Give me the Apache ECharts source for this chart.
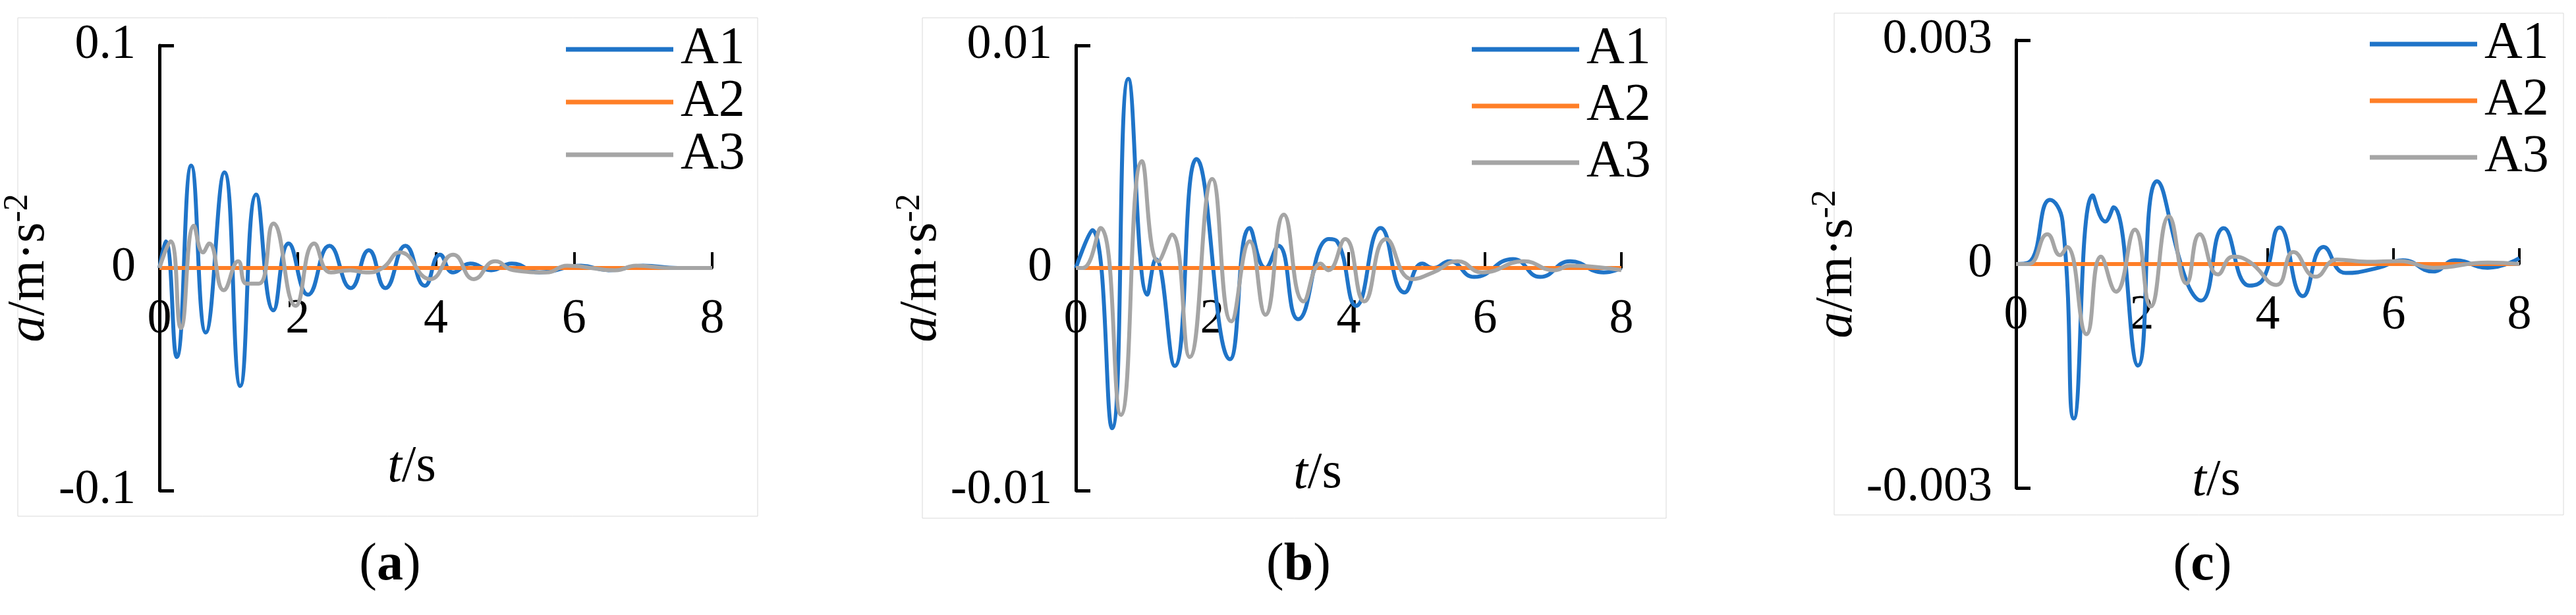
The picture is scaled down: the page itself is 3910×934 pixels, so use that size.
<!DOCTYPE html>
<html><head><meta charset="utf-8">
<script src="https://cdn.jsdelivr.net/npm/echarts@6/dist/echarts.min.js"></script>
<style>html,body{margin:0;padding:0;background:#fff}#c{width:3910px;height:934px}</style>
</head><body><div id="c"></div>
<script>
// Panel (a)
const tA1a=[0,0.09,0.25,0.46,0.67,0.94,1.17,1.40,1.65,1.87,2.15,2.46,2.77,3.03,3.27,3.56,3.84,4.06,4.25,4.5,4.8,5.1,5.5,6.1,6.5,7.0,7.5,8];
const vA1a=[0,0.012,-0.040,0.046,-0.029,0.043,-0.053,0.033,-0.019,0.011,-0.012,0.010,-0.009,0.008,-0.009,0.010,-0.008,0.006,-0.002,0.002,-0.001,0.002,-0.002,0.001,-0.001,0.001,0,0];
const tA3a=[0,0.16,0.31,0.50,0.63,0.72,0.93,1.14,1.26,1.44,1.65,1.97,2.24,2.48,2.76,2.99,3.23,3.48,3.92,4.25,4.55,4.86,5.12,5.6,5.9,6.6,6.9,7.4,8];
const vA3a=[0,0.012,-0.027,0.019,0.007,0.011,-0.010,0.003,-0.007,-0.007,0.020,-0.017,0.011,-0.002,-0.001,-0.002,0,0.007,-0.005,0.006,-0.005,0.003,-0.001,-0.002,0.001,-0.001,0.001,0,0];
// Panel (b)
const tA1b=[0,0.24,0.53,0.77,1.05,1.17,1.45,1.77,2.26,2.55,2.78,2.97,3.26,3.71,3.83,4.11,4.47,4.82,5.08,5.24,5.48,5.84,6.41,6.81,7.25,7.74,8];
const vA1b=[0,0.0017,-0.0072,0.0085,-0.0012,0.0004,-0.0044,0.0049,-0.0041,0.0018,0,0.0010,-0.0023,0.0013,0.0012,-0.0017,0.0018,-0.0011,0.0002,0,0.0003,-0.0004,0.0004,-0.0004,0.0003,-0.0002,0];
const tA3b=[0,0.1,0.36,0.66,0.97,1.21,1.41,1.67,2.0,2.28,2.55,2.78,3.05,3.34,3.59,3.7,3.95,4.23,4.55,4.93,5.24,5.6,5.96,6.57,7.01,7.25,8];
const vA3b=[0,0,0.0018,-0.0066,0.0048,0.0003,0.0015,-0.0040,0.0040,-0.0024,0.0012,-0.0021,0.0024,-0.0015,0.0002,-0.0001,0.0013,-0.0015,0.0013,-0.0005,-0.0002,0.0003,-0.0002,0.0003,-0.0001,0.0001,-0.0001];
// Panel (c)
const tA1c=[0,0.2,0.54,0.74,0.92,1.22,1.42,1.55,1.94,2.24,2.71,2.94,3.30,3.71,3.93,4.19,4.56,4.89,5.24,5.76,6.15,6.63,6.98,7.5,8];
const vA1c=[0,0.00002,0.00086,0.00057,-0.00207,0.00092,0.00057,0.00076,-0.00136,0.00111,-0.00023,-0.00049,0.00048,-0.00029,-0.0002,0.00049,-0.00043,0.00023,-0.00012,-0.00005,0.00005,-0.0001,0.00005,-0.00005,0.00008];
const tA3c=[0,0.2,0.50,0.70,0.81,1.12,1.35,1.59,1.89,2.14,2.43,2.71,2.92,3.21,3.45,3.71,4.14,4.41,4.76,5.1,5.58,6.1,6.63,7.5,8];
const vA3c=[0,0,0.0004,0.00012,0.00023,-0.00094,0.0001,-0.00037,0.00046,-0.00057,0.00064,-0.00026,0.0004,-0.00014,0.0001,0.00003,-0.00028,0.00016,-0.00017,0.00006,0.00003,0.00004,-0.00005,0.00002,0];
const tA2=[0,8];
const vA2=[0,0];
const xTicks=[0,2,4,6,8];
const yMax=[0.1,0.01,0.003];
const seriesNames=['A1','A2','A3'];
const captions=['a','b','c'];

const colors=['#1F74C8','#FF7F27','#A5A5A5'];
const FONT='Liberation Serif';
const pair=(t,v)=>t.map((x,i)=>[x,v[i]]);
const panelData=[[pair(tA1a,vA1a),pair(tA2,vA2),pair(tA3a,vA3a)],
 [pair(tA1b,vA1b),pair(tA2,vA2),pair(tA3b,vA3b)],
 [pair(tA1c,vA1c),pair(tA2,vA2),pair(tA3c,vA3c)]];
const grids=[{left:233,top:69,width:848,height:676},{left:1633,top:69,width:828,height:676},{left:3060,top:61,width:764,height:680}];
const legends=[{left:854,top:30,gap:0},{left:2229,top:30,gap:6},{left:3592,top:22,gap:6}];
const boxes=[[27,27,1123,757],[1400,27,1129,760],[2784,20,1107,762]];
const tsPos=[[625,710],[2000,720],[3364,731]];
const capPos=[592,1971,3343];

const chart=echarts.init(document.getElementById('c'),null,{renderer:'canvas'});
const option={backgroundColor:'#fff',animation:false,grid:[],xAxis:[],yAxis:[],series:[],legend:[],graphic:[]};
grids.forEach((g,k)=>{
  option.grid.push(g);
  option.xAxis.push({type:'value',gridIndex:k,min:0,max:8,interval:2,position:'bottom',offset:-g.height/2,
    axisLine:{onZero:false,lineStyle:{color:'#000',width:3}},
    axisTick:{inside:true,length:24,lineStyle:{color:'#000',width:4}},
    axisLabel:{margin:42,fontFamily:FONT,fontSize:74,color:'#000'},splitLine:{show:false}});
  option.yAxis.push({type:'value',gridIndex:k,min:-yMax[k],max:yMax[k],interval:yMax[k],
    axisLine:{lineStyle:{color:'#000',width:5}},
    axisTick:{inside:true,length:22,lineStyle:{color:'#000',width:5}},
    axisLabel:{margin:36,fontFamily:FONT,fontSize:74,color:'#000'},splitLine:{show:false},
    name:'{i|a}/m·s{s|-2}',nameLocation:'middle',nameGap:110,nameRotate:90,
    nameTextStyle:{fontFamily:FONT,fontSize:80,color:'#000',rich:{i:{fontFamily:FONT,fontStyle:'italic',fontSize:80},s:{fontFamily:FONT,fontSize:52,verticalAlign:'top',padding:[0,0,36,0]}}}});
  seriesNames.forEach((n,j)=>option.series.push({name:n,type:'line',xAxisIndex:k,yAxisIndex:k,
    data:panelData[k][j],smooth:0.5,showSymbol:false,z:j===1?3:(j===0?2:4),
    lineStyle:{color:colors[j],width:6},itemStyle:{color:colors[j]}}));
  const L=legends[k];
  option.legend.push({left:L.left,top:L.top,orient:'vertical',itemWidth:163,itemHeight:7,itemGap:L.gap,
    icon:'rect',data:seriesNames,selectedMode:false,textStyle:{fontFamily:FONT,fontSize:80,color:'#000',padding:[0,0,0,6]}});
  const b=boxes[k];
  option.graphic.push({type:'rect',shape:{x:b[0],y:b[1],width:b[2],height:b[3]},style:{fill:'none',stroke:'#d9d9d9',lineWidth:1},z:-1});
  option.graphic.push({type:'text',x:tsPos[k][0],y:tsPos[k][1],style:{text:'{i|t}/s',rich:{i:{fontFamily:FONT,fontStyle:'italic',fontSize:78}},fontFamily:FONT,fontSize:78,fill:'#000',textAlign:'center',textVerticalAlign:'middle'}});
  option.graphic.push({type:'text',x:capPos[k],y:859,style:{text:'({b|'+captions[k]+'})',rich:{b:{fontFamily:FONT,fontWeight:'bold',fontSize:80}},fontFamily:FONT,fontSize:80,fill:'#000',textAlign:'center',textVerticalAlign:'middle'}});
});
chart.setOption(option);
</script></body></html>
